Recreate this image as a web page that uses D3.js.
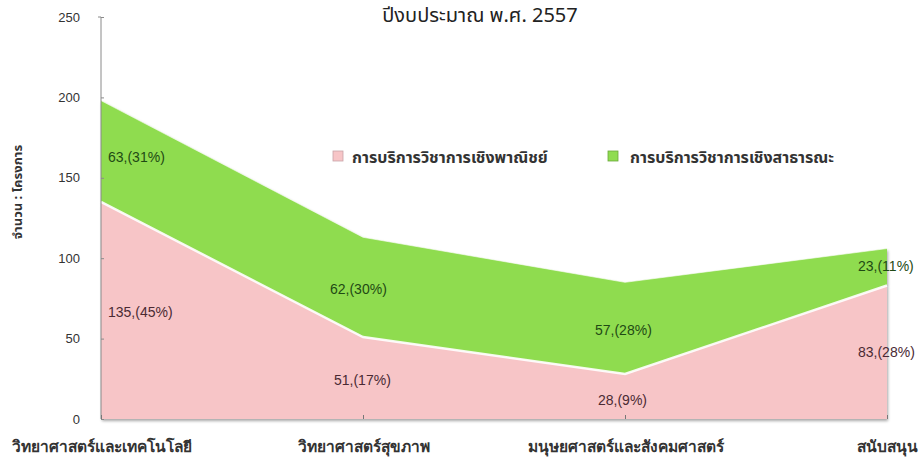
<!DOCTYPE html>
<html><head><meta charset="utf-8">
<script src="https://cdn.jsdelivr.net/npm/d3@7"></script>
<style>
html,body{margin:0;padding:0;background:#fff;}
svg{display:block;font-family:"Noto Sans Thai","Tahoma","Noto Sans","DejaVu Sans",sans-serif;}
</style></head>
<body>
<svg id="c" width="923" height="461"></svg>
<script>
const title = "ปีงบประมาณ พ.ศ. 2557";
const yTitle = "จำนวน : โครงการ";
const categories = ["วิทยาศาสตร์และเทคโนโลยี","วิทยาศาสตร์สุขภาพ","มนุษยศาสตร์และสังคมศาสตร์","สนับสนุน"];
const seriesNames = ["การบริการวิชาการเชิงพาณิชย์","การบริการวิชาการเชิงสาธารณะ"];
const commercial = [135, 51, 28, 83];
const commercialPct = ["45%","17%","9%","28%"];
const publicSvc = [63, 62, 57, 23];
const publicPct = ["31%","30%","28%","11%"];
const yTicks = [0, 50, 100, 150, 200, 250];

const svg = d3.select("#c");
const x = d3.scalePoint().domain(categories).range([101, 887]);
const y = d3.scaleLinear().domain([0, 250]).range([419, 17]);

const table = categories.map((c,i)=>({cat:c, a:commercial[i], b:publicSvc[i]}));
const stack = d3.stack().keys(["a","b"])(table);
const area = d3.area().x(d=>x(d.data.cat)).y0(d=>y(d[0])).y1(d=>y(d[1]));
const line = d3.line().x(d=>x(d.data.cat)).y(d=>y(d[1]));
const fills = ["#f7c5c7", "#8fdc50"];
const labelCols = ["#4a2a33", "#1f4a14"];

const defs = svg.append("defs");
const f = defs.append("filter").attr("id","sh").attr("x","-5%").attr("y","-5%").attr("width","110%").attr("height","120%");
f.append("feGaussianBlur").attr("in","SourceAlpha").attr("stdDeviation",1.5);
f.append("feOffset").attr("dx",1).attr("dy",2).attr("result","o");
f.append("feComponentTransfer").append("feFuncA").attr("type","linear").attr("slope",0.35);
const m = f.append("feMerge"); m.append("feMergeNode"); m.append("feMergeNode").attr("in","SourceGraphic");

svg.append("path").datum(stack[1]).attr("d", area).attr("fill", fills[1]).attr("filter","url(#sh)");
svg.append("path").datum(stack[0]).attr("d", area).attr("fill", fills[0]).attr("filter","url(#sh)");
svg.append("path").datum(stack[0]).attr("d", line).attr("fill","none").attr("stroke","#fff").attr("stroke-width",2.5).attr("opacity",0.9);
svg.append("path").datum(stack[1]).attr("d", line).attr("fill","none").attr("stroke","#fff").attr("stroke-width",1).attr("opacity",0.6);

const yAxis = svg.append("g").attr("transform","translate(101,0)")
  .call(d3.axisLeft(y).tickValues(yTicks).tickSize(3).tickPadding(18));
yAxis.select(".domain").attr("stroke","#8a8a8a").attr("d","M-3,"+y(250)+"H0V"+y(0));
yAxis.selectAll(".tick line").attr("stroke","#8a8a8a").attr("x2",3).attr("x1",0);
yAxis.selectAll(".tick text").attr("font-size",13).attr("fill","#333").attr("font-family","Arial, 'Liberation Sans', sans-serif");

const xAxis = svg.append("g").attr("transform","translate(0,419)")
  .call(d3.axisBottom(x).tickSize(-4).tickPadding(22));
xAxis.select(".domain").attr("stroke","#555").attr("stroke-width",2).attr("d","M101,0H887").attr("filter","url(#sh)");
xAxis.selectAll(".tick line").attr("stroke","#777");
xAxis.selectAll(".tick text").attr("font-size",15.5).attr("font-weight","bold").attr("fill","#333");

const labelPos = [
  [[108,312],[334,380],[598,400],[858,352]],
  [[108,157],[330,289],[595,330],[858,266]]
];
[ [commercial,commercialPct], [publicSvc,publicPct] ].forEach((s,si)=>{
  s[0].forEach((v,i)=>{
    const pos = labelPos[si][i];
    svg.append("text").attr("x", pos[0]).attr("y", pos[1])
      .attr("font-size",14).attr("fill",labelCols[si])
      .attr("font-family","Arial, 'Liberation Sans', sans-serif")
      .attr("dy","0.35em")
      .text(v+",("+s[1][i]+")");
  });
});

svg.append("text").attr("x",480).attr("y",22).attr("text-anchor","middle").attr("font-size",20).attr("fill","#222").text(title);

svg.append("text").attr("transform","translate(22,192) rotate(-90)").attr("text-anchor","middle").attr("font-size",13).attr("font-weight","bold").attr("fill","#333").text(yTitle);

const lg = [[333,352],[608,630]];
seriesNames.forEach((n,i)=>{
  svg.append("rect").attr("x",lg[i][0]).attr("y",151).attr("width",10).attr("height",10).attr("fill",fills[i]).attr("stroke",i===0?"#c9a3a8":"#6aa83a").attr("stroke-width",0.8);
  svg.append("text").attr("x",lg[i][1]).attr("y",157).attr("dy","0.35em").attr("font-size",16).attr("font-weight","bold").attr("fill","#333").text(n);
});
</script>
</body></html>
